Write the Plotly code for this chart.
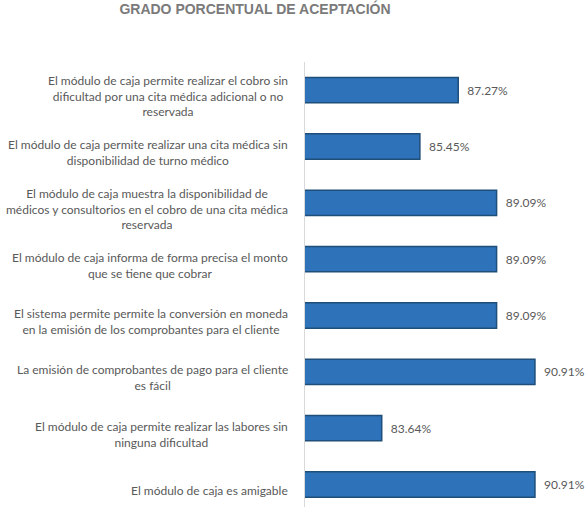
import plotly.graph_objects as go

categories = [
    "El módulo de caja permite realizar el cobro sin<br>dificultad por una cita médica adicional o no<br>reservada",
    "El módulo de caja permite realizar una cita médica sin<br>disponibilidad de turno médico",
    "El módulo de caja muestra la disponibilidad de<br>médicos y consultorios en el cobro de una cita médica<br>reservada",
    "El módulo de caja informa de forma precisa el monto<br>que se tiene que cobrar",
    "El sistema permite permite la conversión en moneda<br>en la emisión de los comprobantes para el cliente",
    "La emisión de comprobantes de pago para el cliente<br>es fácil",
    "El módulo de caja permite realizar las labores sin<br>ninguna dificultad",
    "El módulo de caja es amigable",
]
values = [87.27, 85.45, 89.09, 89.09, 89.09, 90.91, 83.64, 90.91]
title_text = "GRADO PORCENTUAL DE ACEPTACIÓN"

fig = go.Figure()
fig.add_trace(go.Bar(
    x=values,
    y=categories,
    orientation="h",
    width=0.45,
    marker=dict(color="#2E72BA", line=dict(color="#1F4E79", width=1.5)),
    texttemplate="  %{x:.2f}%",
    textposition="outside",
    textfont=dict(family="Lato", size=12, color="#595959"),
    cliponaxis=False,
    hoverinfo="skip",
))

for c in categories:
    fig.add_annotation(
        x=0, xref="paper", y=c, yref="y",
        text=c, showarrow=False, xanchor="right", yanchor="middle",
        align="center", xshift=-15, yshift=-6,
        font=dict(family="Lato", size=12, color="#595959"),
    )

fig.update_layout(
    width=588, height=507,
    margin=dict(l=305, r=9, t=62, b=0),
    paper_bgcolor="white", plot_bgcolor="white",
    showlegend=False,
    title=dict(
        text=title_text, x=255 / 588, xref="container", xanchor="center",
        y=1 - 9 / 507, yref="container", yanchor="middle",
        font=dict(family="Liberation Sans", size=14, color="#7A7A7A", weight="bold"),
    ),
    xaxis=dict(range=[80, 93], visible=False, fixedrange=True),
    yaxis=dict(
        categoryorder="array", categoryarray=categories,
        range=[7.4, -0.5], showticklabels=False, showgrid=False,
        showline=True, linecolor="#D9D9D9", linewidth=1, zeroline=False,
        ticks="", fixedrange=True,
    ),
)

fig.write_html(
    "out.html",
    config={"displayModeBar": False},
    post_script="document.body.style.margin='0';document.body.style.overflow='hidden';",
)
